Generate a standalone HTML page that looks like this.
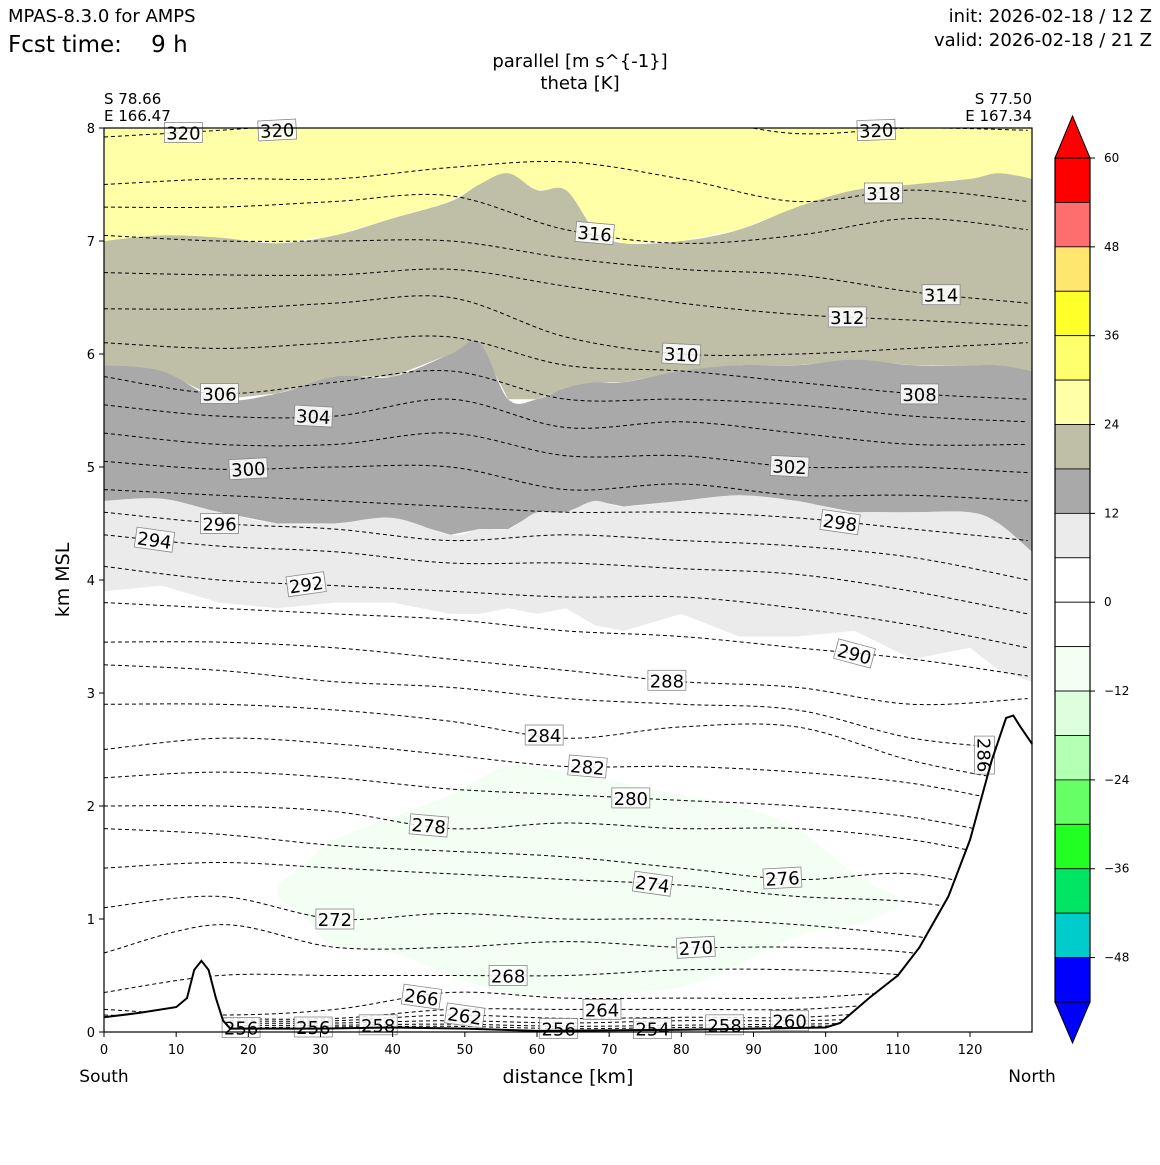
<!DOCTYPE html>
<html><head><meta charset="utf-8"><style>
body{margin:0;background:#fff;}
svg text{font-family:"DejaVu Sans","Liberation Sans",sans-serif;}
</style></head><body>
<svg id="chart" width="1160" height="1160" viewBox="0 0 1160 1160" xmlns="http://www.w3.org/2000/svg">
<rect width="1160" height="1160" fill="#fff"/>
<text x="8" y="22" font-size="18">MPAS-8.3.0 for AMPS</text>
<text x="8" y="52" font-size="23" xml:space="preserve">Fcst time:    9 h</text>
<text x="1152" y="22" font-size="18" text-anchor="end">init: 2026-02-18 / 12 Z</text>
<text x="1152" y="46" font-size="18" text-anchor="end">valid: 2026-02-18 / 21 Z</text>
<text x="580" y="67" font-size="18" text-anchor="middle">parallel [m s^{-1}]</text>
<text x="580" y="89" font-size="18" text-anchor="middle">theta [K]</text>
<text x="104" y="104" font-size="15">S 78.66</text>
<text x="104" y="121" font-size="15">E 166.47</text>
<text x="1032" y="104" font-size="15" text-anchor="end">S 77.50</text>
<text x="1032" y="121" font-size="15" text-anchor="end">E 167.34</text>
<g id="plot"></g>
<g id="cbar"></g>
<text transform="translate(69,580) rotate(-90)" font-size="19" text-anchor="middle">km MSL</text>
<text x="568" y="1083" font-size="19" text-anchor="middle">distance [km]</text>
<text x="104" y="1082" font-size="17" text-anchor="middle">South</text>
<text x="1032" y="1082" font-size="17" text-anchor="middle">North</text>
</svg>
<script>
// ---- data ----
const gridX = [0,16,32,48,64,80,96,112,128];
const thetaLevels = [320,318,316,314,312,310,308,306,304,302,300,298,296,294,292,290,288,286,284,282,280,278,276,274,272,270,268,266,264,262,260,258,256];
const thetaHeights = [
[7.92,7.98,8.05,8.1,8.1,8.1,7.95,8.0,7.98],
[7.5,7.55,7.55,7.65,7.7,7.55,7.35,7.45,7.35],
[7.3,7.3,7.35,7.4,7.1,6.98,7.05,7.2,7.1],
[7.05,7.0,7.0,7.0,6.85,6.75,6.7,6.55,6.45],
[6.72,6.7,6.7,6.75,6.6,6.45,6.35,6.3,6.25],
[6.4,6.4,6.45,6.5,6.15,6.0,6.0,6.05,6.1],
[6.1,6.05,6.1,6.15,5.9,5.85,5.75,5.65,5.6],
[5.8,5.65,5.75,5.85,5.6,5.6,5.55,5.45,5.4],
[5.55,5.45,5.45,5.6,5.35,5.4,5.3,5.2,5.2],
[5.3,5.2,5.2,5.3,5.1,5.1,5.0,5.0,4.95],
[5.05,4.98,5.0,5.0,4.8,4.85,4.75,4.75,4.7],
[4.8,4.75,4.7,4.65,4.6,4.6,4.55,4.45,4.35],
[4.6,4.5,4.45,4.35,4.4,4.35,4.3,4.2,4.0],
[4.4,4.3,4.25,4.15,4.15,4.1,4.05,3.9,3.7],
[4.12,4.0,3.95,3.9,3.85,3.85,3.75,3.6,3.4],
[3.8,3.75,3.7,3.65,3.55,3.5,3.4,3.3,3.15],
[3.45,3.45,3.4,3.3,3.2,3.1,3.05,2.9,2.95],
[3.25,3.2,3.1,3.05,2.95,2.9,2.85,2.6,2.5],
[2.9,2.9,2.85,2.75,2.6,2.7,2.7,2.4,2.2],
[2.5,2.6,2.55,2.45,2.35,2.35,2.3,2.2,2.0],
[2.25,2.3,2.25,2.15,2.1,2.05,2.0,1.9,1.7],
[2.0,2.0,1.95,1.8,1.85,1.8,1.8,1.7,1.5],
[1.8,1.75,1.65,1.6,1.55,1.45,1.35,1.4,1.2],
[1.45,1.5,1.45,1.4,1.35,1.3,1.2,1.15,1.0],
[1.1,1.2,1.0,1.05,1.0,1.0,0.95,0.85,0.7],
[0.7,0.95,0.75,0.75,0.8,0.75,0.75,0.7,0.5],
[0.35,0.5,0.5,0.5,0.5,0.55,0.55,0.5,0.4],
[0.2,0.15,0.2,0.35,0.3,0.3,0.3,0.35,0.3],
[0.15,0.12,0.12,0.2,0.2,0.2,0.2,0.25,0.2],
[0.12,0.1,0.1,0.15,0.12,0.13,0.13,0.18,0.15],
[0.1,0.08,0.08,0.1,0.08,0.1,0.1,0.12,0.1],
[0.08,0.06,0.06,0.07,0.05,0.06,0.07,0.08,0.08],
[0.06,0.04,0.045,0.05,0.03,0.04,0.05,0.06,0.06]];
const labelLevels = [320,320,320,318,316,314,312,310,308,306,304,302,300,298,296,294,292,290,288,286,284,282,280,278,276,274,272,270,268,266,262,264,260,258,258,256,256,256,254];
const labelX = [11,24,107,108,68,116,103,80,113,16,29,95,20,102,16,7,28,104,78,122,61,67,73,45,94,76,32,82,56,44,50,69,95,38,86,19,29,63,76];
const labelRot = [0,-3,-2,0,5,0,0,3,0,0,3,3,-3,8,0,8,-8,15,0,90,0,5,0,5,-3,8,0,-3,0,8,8,0,0,0,0,0,0,0,0];
const terrainX = [0,5,10,11.5,12.5,13.5,14.5,15.5,16.5,17.5,30,40,50,60,80,100,102,106,110,113,117,120,123,125,126,127,128.6];
const terrainH = [0.13,0.17,0.22,0.3,0.55,0.63,0.55,0.3,0.1,0.03,0.03,0.04,0.03,0.01,0.02,0.04,0.08,0.3,0.5,0.75,1.2,1.7,2.4,2.78,2.8,2.7,2.55];
const fillX = [0,8,16,24,32,40,48,52,56,60,64,68,72,80,88,96,104,112,120,124,128.6];
const wind24 = [7.0,7.05,7.03,6.98,7.05,7.2,7.35,7.5,7.6,7.45,7.45,7.1,6.98,7.0,7.1,7.3,7.45,7.5,7.55,7.6,7.55];
const wind18 = [5.9,5.85,5.6,5.65,5.8,5.8,6.0,6.1,5.6,5.6,5.7,5.75,5.75,5.85,5.9,5.9,5.95,5.9,5.9,5.9,5.85];
const wind12 = [4.7,4.72,4.6,4.5,4.5,4.55,4.4,4.45,4.45,4.6,4.6,4.7,4.65,4.7,4.75,4.7,4.6,4.6,4.6,4.5,4.25];
const wind6 = [3.9,3.95,3.8,3.75,3.8,3.8,3.7,3.7,3.75,3.7,3.75,3.6,3.55,3.7,3.5,3.5,3.55,3.3,3.4,3.2,3.1];
const greenX = [24,28,32,40,48,56,64,72,80,88,96,104,110];
const greenTop = [1.3,1.5,1.7,1.9,2.1,2.35,2.3,2.2,2.1,2.0,1.8,1.4,1.2];
const greenBot = [1.2,1.0,0.75,0.7,0.5,0.35,0.35,0.35,0.4,0.6,0.85,0.95,1.1];
const cbarBounds = [60,54,48,42,36,30,24,18,12,6,0,-6,-12,-18,-24,-30,-36,-42,-48,-54];
const cbarColors = ["#ff0000","#ff6e6e","#ffe66e","#ffff2a","#ffff6e","#ffffa8","#bfbfa8","#a9a9a9","#ebebeb","#ffffff","#ffffff","#f2fff2","#ddffdd","#b3ffb3","#66ff66","#22ff22","#00e563","#00cccc","#0000ff"];
const cbarTicks = [60,48,36,24,12,0,-12,-24,-36,-48];
const xTicks = [0,10,20,30,40,50,60,70,80,90,100,110,120];
const yTicks = [0,1,2,3,4,5,6,7,8];

// ---- axes ----
const X0=104,X1=1032,Y0=1032,Y1=128;
const xs = km => X0 + km*(866/120);
const ys = h => Y0 - h*(Y0-Y1)/8;
const NS="http://www.w3.org/2000/svg";
function mk(tag, attrs, parent){const e=document.createElementNS(NS,tag);for(const k in attrs)e.setAttribute(k,attrs[k]);parent.appendChild(e);return e;}
function interp(xa, ya, x){
  if(x<=xa[0])return ya[0]; if(x>=xa[xa.length-1])return ya[ya.length-1];
  for(let i=0;i<xa.length-1;i++){if(x>=xa[i]&&x<=xa[i+1]){const t=(x-xa[i])/(xa[i+1]-xa[i]);return ya[i]+t*(ya[i+1]-ya[i]);}}
}
function smoothPath(pts){
  let d="M"+pts[0][0].toFixed(1)+","+pts[0][1].toFixed(1);
  for(let i=0;i<pts.length-1;i++){
    const p0=pts[Math.max(0,i-1)],p1=pts[i],p2=pts[i+1],p3=pts[Math.min(pts.length-1,i+2)];
    const c1=[p1[0]+(p2[0]-p0[0])/6,p1[1]+(p2[1]-p0[1])/6],c2=[p2[0]-(p3[0]-p1[0])/6,p2[1]-(p3[1]-p1[1])/6];
    d+=" C"+c1[0].toFixed(1)+","+c1[1].toFixed(1)+" "+c2[0].toFixed(1)+","+c2[1].toFixed(1)+" "+p2[0].toFixed(1)+","+p2[1].toFixed(1);
  }
  return d;
}
const plot=document.getElementById('plot');
const defs=mk('defs',{},plot);
const cp=mk('clipPath',{id:'above'},defs);
let tp=terrainX.map((x,i)=>xs(x).toFixed(1)+","+ys(terrainH[i]).toFixed(1)).join(" ");
mk('polygon',{points:tp+" "+X1+","+Y1+" "+X0+","+Y1},cp);
const g=mk('g',{'clip-path':'url(#above)'},plot);
function band(top, bot, color, name){
  const up=fillX.map((x,i)=>[xs(x),top?ys(top[i]):Y1-2]);
  const lo=fillX.map((x,i)=>[xs(x),ys(bot[i])]).reverse();
  const p=mk('path',{d:smoothPath(up)+" L"+lo.map(q=>q[0].toFixed(1)+","+q[1].toFixed(1)).join(" L")+" Z",fill:color},g);
  
  
}
band(null, wind24, "#ffffa8", "wind-fill-24-30");
band(wind24, wind18, "#bfbfa8", "wind-fill-18-24");
band(wind18, wind12, "#a9a9a9", "wind-fill-12-18");
band(wind12, wind6, "#ebebeb", "wind-fill-6-12");
{
  const up=greenX.map((x,i)=>[xs(x),ys(greenTop[i])]);
  const lo=greenX.map((x,i)=>[xs(x),ys(greenBot[i])]).reverse();
  const p=mk('path',{d:smoothPath(up)+" L"+smoothPath(lo).slice(1)+" Z",fill:"#f2fff2"},g);
  
  
}
thetaLevels.forEach((lv,i)=>{
  const pts=gridX.map((x,j)=>[xs(x),ys(thetaHeights[i][j])]);
  const p=mk('path',{d:smoothPath(pts),fill:"none",stroke:"#000","stroke-width":1,"stroke-dasharray":"4,3"},g);
  
  
});
labelLevels.forEach((lv,i)=>{
  const idx=thetaLevels.indexOf(lv);
  let h=idx>=0?interp(gridX,thetaHeights[idx],labelX[i]):0.03;
  if(lv===286) h=2.45;
  const cx=xs(labelX[i]), cy=Math.max(ys(h),Y1+2);
  const grp=mk('g',{transform:`translate(${cx.toFixed(1)},${cy.toFixed(1)}) rotate(${labelRot[i]})`},plot);
  
  
  mk('rect',{x:-19,y:-10,width:38,height:20,fill:"#fff","fill-opacity":0.85,stroke:"#888","stroke-width":0.8},grp);
  const t=mk('text',{x:0,y:7,"font-size":18,"text-anchor":"middle"},grp);
  t.textContent=lv;
});
const tl=mk('polyline',{points:tp,fill:"none",stroke:"#000","stroke-width":2},plot);


const fr=mk('rect',{x:X0,y:Y1,width:X1-X0,height:Y0-Y1,fill:"none",stroke:"#000","stroke-width":1.2},plot);


xTicks.forEach(v=>{
  const x=xs(v);
  mk('line',{x1:x,y1:Y0,x2:x,y2:Y0+5,stroke:"#000"},plot);
  const t=mk('text',{x:x,y:Y0+22,"font-size":13,"text-anchor":"middle"},plot);
  
  
  t.textContent=v;
});
yTicks.forEach(v=>{
  const y=ys(v);
  mk('line',{x1:X0-5,y1:y,x2:X0,y2:y,stroke:"#000"},plot);
  const t=mk('text',{x:X0-9,y:y+5,"font-size":13,"text-anchor":"end"},plot);
  
  
  t.textContent=v;
});
const cb=document.getElementById('cbar');
const CX0=1055,CX1=1090,CT=158,CB=1002;
const cys=v=>CT+(60-v)*(CB-CT)/114;
mk('polygon',{points:`${CX0},${CT} ${(CX0+CX1)/2},116 ${CX1},${CT}`,fill:"#ff0000",stroke:"#000"},cb);
mk('polygon',{points:`${CX0},${CB} ${(CX0+CX1)/2},1043 ${CX1},${CB}`,fill:"#0000ff",stroke:"#000"},cb);
cbarColors.forEach((c,i)=>{
  const r=mk('rect',{x:CX0,y:cys(cbarBounds[i]),width:CX1-CX0,height:cys(cbarBounds[i+1])-cys(cbarBounds[i]),fill:c,stroke:"#000","stroke-width":0.8},cb);
  
  
});
mk('rect',{x:CX0,y:CT,width:CX1-CX0,height:CB-CT,fill:"none",stroke:"#000","stroke-width":1.2},cb);
cbarTicks.forEach(v=>{
  const y=cys(v);
  mk('line',{x1:CX1,y1:y,x2:CX1+5,y2:y,stroke:"#000"},cb);
  const t=mk('text',{x:CX1+14,y:y+4,"font-size":12},cb);
  
  
  t.textContent=v<0?"\u2212"+(-v):v;
});
</script>
</body></html>
